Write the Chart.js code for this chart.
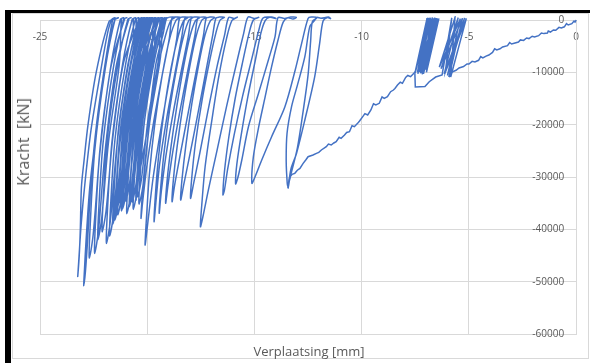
<!DOCTYPE html>
<html>
<head>
<meta charset="utf-8">
<script src="https://cdn.jsdelivr.net/npm/chart.js@4.4.1/dist/chart.umd.min.js"></script>
<style>
  html, body { margin: 0; padding: 0; background: #fff; }
  #wrap { position: relative; width: 590px; height: 363px; overflow: hidden; }
  #card { position: absolute; left: 12px; top: 13px; width: 577px; height: 346px;
          border: 1px solid #d9d9d9; box-sizing: border-box; }
  .bar { position: absolute; background: #000; }
  #chart { position: absolute; left: 0; top: 0; }
  .axis-title { position: absolute; font-family: 'Open Sans', sans-serif; font-size: 13px;
                color: #595959; white-space: nowrap; transform: translate(-50%, -50%); }
  #ytitle { font-size: 16px; transform: translate(-50%, -50%) rotate(-90deg); }
</style>
</head>
<body>
<div id="wrap">
  <div id="card"></div>
  <div class="bar" style="left:5px;top:10px;width:585px;height:3px;"></div>
  <div class="bar" style="left:5px;top:10px;width:6px;height:353px;"></div>
  <canvas id="chart" width="590" height="363"></canvas>
  <div class="axis-title" id="xtitle" style="left:309px;top:351px;">Verplaatsing [mm]</div>
  <div class="axis-title" id="ytitle" style="left:23px;top:142px;">Kracht&nbsp;&nbsp;[kN]</div>
</div>
<script>
// Axis tick values
const dispTicks = [-25, -20, -15, -10, -5, 0];
const forceTicks = [0, -10000, -20000, -30000, -40000, -50000, -60000];

// Trace as [displacement (mm), force (kN)] pairs, in test order

// first loading from zero
const initialLoad = [
  [0,0],[-0.05,-400],[-0.1,-200],[-0.2,-700],[-0.37,-960],[-0.45,-700],[-0.55,-1300],[-0.69,-1530],
  [-0.8,-1400],[-0.95,-1950],[-1.06,-1910],[-1.2,-2300],[-1.3,-2100],[-1.34,-2480],[-1.5,-2600],
  [-1.62,-2480],[-1.75,-3000],[-1.94,-3250],[-2.05,-3100],[-2.2,-3550],[-2.31,-3440],[-2.45,-3900],
  [-2.6,-3800],[-2.69,-4200],[-2.85,-4400],[-3.01,-4590],[-3.1,-4300],[-3.2,-4900],[-3.43,-5160],
  [-3.55,-5500],[-3.7,-5730],[-3.8,-5500],[-3.9,-6200],[-4.07,-6690],[-4.2,-6900],[-4.35,-7260],
  [-4.45,-7000],[-4.55,-7700],[-4.72,-8030],[-4.85,-7900],[-5.0,-8400],[-5.09,-8410],[-5.25,-8900],
  [-5.46,-9170],[-5.6,-9600],[-5.79,-9940],[-5.93,-10890]
];

// small cycles around -6 mm
const cyclesNear6 = [
  [-5.93,-10890],[-5.30,350],[-6.30,-9300],[-5.50,450],[-6.15,-10300],[-5.20,400],[-6.00,-10600],
  [-5.40,250],[-6.38,-9000],[-5.65,450],[-5.85,-10900],[-5.12,300],[-6.10,-10000],[-5.80,400],
  [-6.25,-10500],[-6.55,-10900],[-6.85,-11800],[-7.05,-12700],[-7.50,-12800],[-7.52,-10200]
];

// small cycles around -7 mm
const cyclesNear7 = [
  [-7.52,-10200],[-6.95,350],[-7.38,-10300],[-6.80,450],[-7.28,-9800],[-6.65,350],[-7.18,-10400],
  [-6.52,400],[-7.08,-9600],[-6.40,300],[-6.98,-10000],[-6.70,500],[-7.22,-10100],[-6.88,400],
  [-7.32,-9900],[-6.58,450],[-7.02,-9500],[-6.46,350],[-7.12,-10300],[-6.78,300],[-7.40,-10000],
  [-6.92,400],[-7.35,-9700],[-6.62,250],[-7.26,-10200],[-6.85,350],[-7.49,-9870]
];

// second loading branch
const secondLoad = [
  [-7.49,-9870],[-7.6,-10300],[-7.72,-10830],[-7.85,-10600],[-7.95,-10960],[-8.1,-12100],[-8.2,-11900],
  [-8.33,-12420],[-8.45,-13100],[-8.52,-13380],[-8.65,-13700],[-8.8,-14650],[-8.95,-14970],[-9.05,-14700],
  [-9.18,-15920],[-9.34,-16240],[-9.45,-16000],[-9.57,-17200],[-9.72,-18150],[-9.85,-17900],[-9.95,-18470],
  [-10.1,-19300],[-10.19,-19750],[-10.34,-20390],[-10.45,-20200],[-10.57,-21340],[-10.7,-21500],
  [-10.8,-21980],[-10.96,-22610],[-11.05,-22400],[-11.19,-23250],[-11.3,-23500],[-11.42,-23890],
  [-11.55,-23700],[-11.65,-24210],[-11.88,-24840],[-12.0,-25300],[-12.11,-25480],[-12.27,-25800],
  [-12.5,-26120],[-12.6,-26700],[-12.73,-27390],[-12.88,-28350],[-13.0,-28700],[-13.12,-29300],
  [-13.25,-29500],[-13.35,-29950],[-13.4,-31000],[-13.43,-32160]
];

// large load cycles, growing amplitude
const largeCycles = [
  [-13.43,-32160],[-13.30,-28500],[-13.04,-25500],[-12.65,-19100],[-12.19,-10800],[-11.96,-4460],[-11.80,-200],
  [-11.60,450],[-11.45,250],[-11.55,550],[-11.90,350],[-12.10,500],
  [-12.20,-100],[-12.42,-1270],[-12.65,-7000],[-13.00,-12500],[-13.27,-16560],[-13.48,-21650],[-13.52,-27000],[-13.47,-31300],
  [-13.44,-31700],[-13.30,-29500],[-13.00,-24500],[-12.75,-18000],[-12.50,-10500],[-12.38,-4000],[-12.30,-300],
  [-12.10,400],[-12.35,550],[-12.50,300],
  [-12.80,-4460],[-13.10,-9550],[-13.58,-16560],[-14.20,-22300],[-14.66,-26750],[-14.97,-29950],
  [-15.12,-31200],[-15.05,-26120],[-14.80,-20390],[-14.50,-14650],[-14.20,-8920],[-13.90,-3820],[-13.66,-400],
  [-13.45,400],[-13.20,200],[-13.05,500],[-13.30,550],[-13.60,300],[-13.90,450],
  [-14.04,-3180],[-14.35,-7640],[-14.81,-14000],[-15.28,-20390],[-15.59,-26750],[-15.78,-30200],
  [-15.88,-31300],[-15.82,-27500],[-15.60,-21500],[-15.30,-14500],[-14.95,-7500],[-14.70,-2500],[-14.50,-100],
  [-14.30,500],[-14.00,300],[-14.20,550],[-14.60,400],
  [-14.80,-2000],[-15.10,-7000],[-15.55,-14500],[-15.95,-22000],[-16.25,-28500],[-16.40,-32500],
  [-16.47,-33400],[-16.40,-29000],[-16.20,-22500],[-15.90,-15000],[-15.55,-8000],[-15.25,-2500],[-15.05,0],
  [-14.80,500],[-15.00,300],[-15.30,550],
  [-15.50,-2500],[-15.85,-8500],[-16.30,-16500],[-16.75,-25000],[-17.15,-32500],[-17.40,-37500],
  [-17.52,-39500],[-17.45,-35000],[-17.30,-28000],[-17.00,-19500],[-16.65,-10500],[-16.30,-3500],[-16.05,-100],
  [-15.80,550],[-15.95,300],[-16.20,500],
  [-16.40,-3000],[-16.75,-9000],[-17.15,-17000],[-17.55,-25500],[-17.85,-31500],
  [-17.98,-34080],[-17.92,-30000],[-17.75,-23500],[-17.45,-15500],[-17.10,-8000],[-16.80,-2500],[-16.60,0],
  [-16.40,500],[-16.65,550],[-16.80,350],
  [-16.95,-3000],[-17.25,-9500],[-17.62,-17500],[-18.00,-25500],[-18.30,-31500],
  [-18.44,-34400],[-18.38,-30500],[-18.20,-24000],[-17.92,-16000],[-17.60,-8500],[-17.30,-2800],[-17.05,-100],
  [-16.85,450],[-17.10,550],[-17.25,350],
  [-17.38,-3000],[-17.70,-9500],[-18.08,-17500],[-18.45,-25500],[-18.72,-31500],
  [-18.84,-34720],[-18.78,-30500],[-18.60,-24000],[-18.32,-16000],[-18.00,-8500],[-17.70,-2800],[-17.45,0],
  [-17.25,500],[-17.50,550],[-17.65,300],
  [-17.78,-3000],[-18.10,-9500],[-18.48,-17500],[-18.82,-25500],[-19.03,-31500],
  [-19.14,-35030],[-19.08,-31000],[-18.90,-24500],[-18.62,-16500],[-18.30,-8800],[-18.00,-3000],[-17.75,-100],
  [-17.55,450],[-17.80,550],[-17.95,300],
  [-18.08,-3000],[-18.40,-9500],[-18.78,-17500],[-19.13,-26000],[-19.35,-33000],
  [-19.44,-36940],[-19.38,-32500],[-19.22,-25500],[-18.95,-17000],[-18.62,-9000],[-18.30,-3000],[-18.05,0],
  [-17.85,500],[-18.10,550],[-18.25,300],
  [-18.38,-3000],[-18.70,-10000],[-19.08,-18500],[-19.42,-27500],[-19.60,-35000],
  [-19.68,-38540],[-19.62,-33500],[-19.47,-26000],[-19.20,-17000],[-18.88,-9000],[-18.55,-3000],[-18.30,-100],
  [-18.10,450],[-18.35,550],[-18.50,300],
  [-18.62,-3500],[-18.95,-11000],[-19.33,-20000],[-19.72,-30000],[-19.98,-39000],
  [-20.10,-43000],[-20.03,-37500],[-19.90,-29500],[-19.65,-20000],[-19.30,-10500],[-18.95,-3500],[-18.65,0],
  [-18.45,450],[-18.70,550],[-18.85,300],
  [-18.97,-3500],[-19.30,-10500],[-19.68,-19000],[-20.02,-28000],[-20.22,-35000],
  [-20.29,-37900],[-20.22,-33000],[-20.07,-26000],[-19.82,-17500],[-19.50,-9000],[-19.15,-3000],[-18.90,-100],
  [-18.70,500],[-18.95,550],[-19.10,300],
  [-19.25,-2500],[-19.60,-8500],[-19.98,-20500],[-20.35,-29000],[-20.47,-31500],
  [-20.52,-34400],[-20.50,-31000],[-20.27,-18900],[-19.77,-6900],[-19.32,150],[-19.17,450],[-19.27,250],
  [-19.38,-7000],[-19.88,-19400],[-20.20,-31700],
  [-20.38,-35200],[-20.36,-31700],[-20.13,-19400],[-19.63,-7000],[-19.18,150],[-19.03,450],[-19.13,250],
  [-19.65,-7200],[-20.15,-19900],[-20.47,-32600],
  [-20.65,-36200],[-20.63,-32600],[-20.40,-19900],[-19.90,-7200],[-19.45,150],[-19.30,450],[-19.40,250],
  [-19.45,-6800],[-19.95,-18600],[-20.27,-30400],
  [-20.45,-33800],[-20.43,-30400],[-20.20,-18600],[-19.70,-6800],[-19.25,150],[-19.10,450],[-19.20,250],
  [-19.83,-7100],[-20.33,-19600],[-20.65,-32100],
  [-20.83,-35670],[-20.81,-32100],[-20.58,-19600],[-20.08,-7100],[-19.63,150],[-19.48,450],[-19.58,250],
  [-19.70,-7000],[-20.20,-19100],[-20.52,-31300],
  [-20.70,-34800],[-20.68,-31300],[-20.45,-19100],[-19.95,-7000],[-19.50,150],[-19.35,450],[-19.45,250],
  [-19.95,-7400],[-20.45,-20300],[-20.77,-33300],
  [-20.95,-37000],[-20.93,-33300],[-20.70,-20300],[-20.20,-7400],[-19.75,150],[-19.60,450],[-19.70,250],
  [-19.80,-6800],[-20.30,-18800],[-20.62,-30800],
  [-20.80,-34200],[-20.78,-30800],[-20.55,-18800],[-20.05,-6800],[-19.60,150],[-19.45,450],[-19.55,250],
  [-20.14,-7200],[-20.64,-19800],[-20.96,-32400],
  [-21.14,-36000],[-21.12,-32400],[-20.89,-19800],[-20.39,-7200],[-19.94,150],[-19.79,450],[-19.89,250],
  [-20.00,-6900],[-20.50,-19000],[-20.82,-31100],
  [-21.00,-34600],[-20.98,-31100],[-20.75,-19000],[-20.25,-6900],[-19.80,150],[-19.65,450],[-19.75,250],
  [-20.25,-7100],[-20.75,-19500],[-21.07,-32000],
  [-21.25,-35500],[-21.23,-32000],[-21.00,-19500],[-20.50,-7100],[-20.05,150],[-19.90,450],[-20.00,250],
  [-20.10,-6800],[-20.60,-18600],[-20.92,-30500],
  [-21.10,-33900],[-21.08,-30500],[-20.85,-18600],[-20.35,-6800],[-19.90,150],[-19.75,450],[-19.85,250],
  [-20.37,-7450],[-20.87,-20500],[-21.19,-33500],
  [-21.37,-37270],[-21.35,-33500],[-21.12,-20500],[-20.62,-7450],[-20.17,150],[-20.02,450],[-20.12,250],
  [-20.20,-7300],[-20.70,-20100],[-21.02,-32800],
  [-21.20,-36500],[-21.18,-32800],[-20.95,-20100],[-20.45,-7300],[-20.00,150],[-19.85,450],[-19.95,250],
  [-20.50,-7600],[-21.00,-21000],[-21.32,-34400],
  [-21.50,-38200],[-21.48,-34400],[-21.25,-21000],[-20.75,-7600],[-20.30,150],[-20.15,450],[-20.25,250],
  [-20.32,-7000],[-20.82,-19200],[-21.14,-31400],
  [-21.32,-34900],[-21.30,-31400],[-21.07,-19200],[-20.57,-7000],[-20.12,150],[-19.97,450],[-20.07,250],
  [-20.45,-7200],[-20.95,-19700],[-21.27,-32200],
  [-21.45,-35800],[-21.43,-32200],[-21.20,-19700],[-20.70,-7200],[-20.25,150],[-20.10,450],[-20.20,250],
  [-20.75,-8300],[-21.25,-22700],[-21.57,-37200],
  [-21.75,-41300],[-21.73,-37200],[-21.50,-22700],[-21.00,-8300],[-20.55,150],[-20.40,450],[-20.50,250],
  [-20.58,-7400],[-21.08,-20400],[-21.40,-33300],
  [-21.58,-37000],[-21.56,-33300],[-21.33,-20400],[-20.83,-7400],[-20.38,150],[-20.23,450],[-20.33,250],
  [-20.90,-8500],[-21.40,-23500],[-21.72,-38400],
  [-21.90,-42700],[-21.88,-38400],[-21.65,-23500],[-21.15,-8500],[-20.70,150],[-20.55,450],[-20.65,250],
  [-20.60,-7800],[-21.10,-21500],[-21.42,-35100],
  [-21.60,-39000],[-21.58,-35100],[-21.35,-21500],[-20.85,-7800],[-20.40,150],[-20.25,450],[-20.35,250],
  [-21.10,-8100],[-21.60,-22300],[-21.92,-36500],
  [-22.10,-40500],[-22.08,-36500],[-21.85,-22300],[-21.35,-8100],[-20.90,150],[-20.75,450],[-20.85,250],
  [-21.45,-8900],[-21.95,-24500],[-22.27,-40100],
  [-22.45,-44600],[-22.43,-40100],[-22.20,-24500],[-21.70,-8900],[-21.25,150],[-21.10,450],[-21.20,250],
  [-21.30,-8400],[-21.80,-23100],[-22.12,-37800],
  [-22.30,-42000],[-22.28,-37800],[-22.05,-23100],[-21.55,-8400],[-21.10,150],[-20.95,450],[-21.05,250],
  [-21.70,-9100],[-22.20,-25000],[-22.52,-41000],
  [-22.70,-45500],[-22.68,-41000],[-22.45,-25000],[-21.95,-9100],[-21.50,150],[-21.35,450],[-21.45,250],
  [-21.78,-300],[-22.38,-10000],[-22.76,-20000],[-22.95,-27000],[-23.07,-32000],[-23.12,-40000],[-23.17,-45000],
  [-23.24,-49000],[-23.20,-46500],[-23.08,-39000],[-22.90,-31000],[-22.62,-21000],[-22.20,-10500],[-21.85,-2500],
  [-21.65,150],[-21.50,450],[-21.60,250],
  [-21.95,-8000],[-22.35,-19500],[-22.62,-31000],[-22.78,-42000],[-22.88,-48000],
  [-22.96,-50800],[-22.93,-48000],[-22.85,-42000],[-22.68,-32000],[-22.40,-22000],[-22.05,-11000],[-21.70,-3000],
  [-21.50,150],[-21.35,400],[-21.45,250]
];

const toXY = pts => pts.map(([d, f]) => ({ x: d, y: f }));
const LINE = '#4472C4';
const GRID = '#d9d9d9';
const TICK_FONT = { family: "'Open Sans', sans-serif", size: 10 };

function trace(points, tension) {
  return {
    data: toXY(points),
    showLine: true,
    borderColor: LINE,
    borderWidth: 1.5,
    pointRadius: 0,
    pointHoverRadius: 0,
    fill: false,
    tension: tension,
    clip: { left: 2, top: 4, right: 4, bottom: 2 }
  };
}

new Chart(document.getElementById('chart'), {
  type: 'scatter',
  data: {
    datasets: [
      trace(initialLoad, 0),
      trace(cyclesNear6, 0),
      trace(cyclesNear7, 0),
      trace(secondLoad, 0),
      trace(largeCycles, 0.3)
    ]
  },
  options: {
    responsive: false,
    animation: false,
    events: [],
    layout: { padding: { left: 40, right: 10, top: 20, bottom: 29 } },
    plugins: { legend: { display: false }, tooltip: { enabled: false } },
    scales: {
      x: {
        type: 'linear',
        min: -25,
        max: 0,
        position: { y: 0 },
        afterBuildTicks: s => { s.ticks = dispTicks.map(v => ({ value: v })); },
        ticks: {
          font: TICK_FONT, color: '#595959', padding: 11,
          maxRotation: 0, autoSkip: false, callback: v => String(v)
        },
        grid: { color: GRID, lineWidth: 1, drawTicks: false },
        border: { color: GRID, width: 1 }
      },
      y: {
        type: 'linear',
        min: -60000,
        max: 0,
        position: 'right',
        afterBuildTicks: s => { s.ticks = forceTicks.map(v => ({ value: v })); },
        afterFit: s => { s.width = 0; },
        ticks: {
          font: TICK_FONT, color: '#595959', mirror: true, padding: -12,
          autoSkip: false, callback: v => String(v)
        },
        grid: { color: GRID, lineWidth: 1, drawTicks: false },
        border: { color: GRID, width: 1 }
      }
    }
  }
});
</script>
</body>
</html>
